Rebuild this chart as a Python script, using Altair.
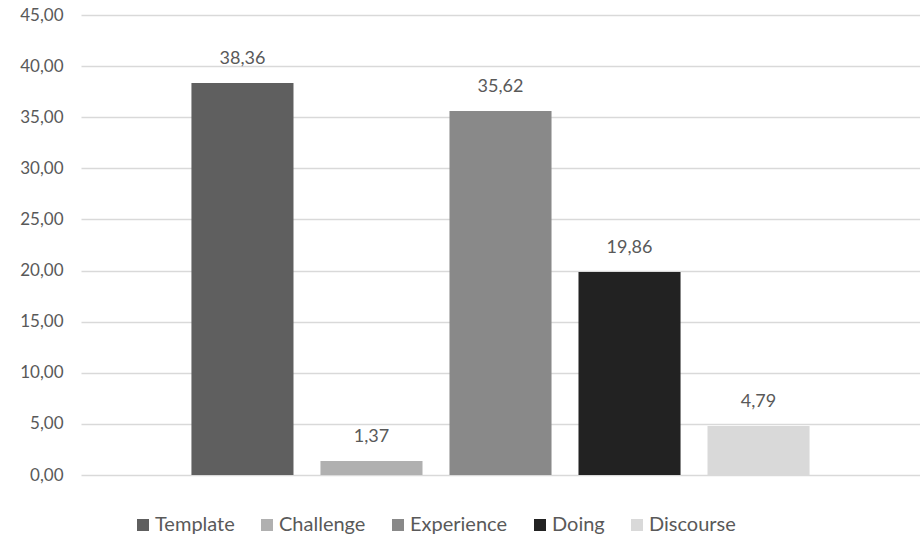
import altair as alt
import pandas as pd

# Share of each category (%)
categories = ["Template", "Challenge", "Experience", "Doing", "Discourse"]
values = [38.36, 1.37, 35.62, 19.86, 4.79]
bar_colors = ["#5f5f5f", "#b0b0b0", "#898989", "#222222", "#d9d9d9"]

y_ticks = [0, 5, 10, 15, 20, 25, 30, 35, 40, 45]

df = pd.DataFrame({"category": categories, "value": values})

FONT = "Lato"
TEXT_COLOR = "#595959"

x_enc = alt.X(
    "category:N",
    sort=categories,
    axis=None,
    scale=alt.Scale(paddingInner=0.209, paddingOuter=0.856, align=0.5),
)

bars = alt.Chart(df).mark_bar().encode(
    x=x_enc,
    y=alt.Y(
        "value:Q",
        scale=alt.Scale(domain=[0, 45], nice=False, zero=True),
        axis=alt.Axis(
            values=y_ticks,
            title=None,
            domain=False,
            ticks=False,
            grid=True,
            gridColor="#d9d9d9",
            gridWidth=1.5,
            labelFont=FONT,
            labelFontSize=17,
            labelColor=TEXT_COLOR,
            labelPadding=18,
            labelExpr="replace(format(datum.value, '.2f'), '.', ',')",
        ),
    ),
    color=alt.Color(
        "category:N",
        sort=categories,
        scale=alt.Scale(domain=categories, range=bar_colors),
        legend=alt.Legend(
            title=None,
            orient="none",
            direction="horizontal",
            columns=5,
            legendX=52,
            legendY=500,
            symbolType="square",
            symbolSize=144,
            symbolStrokeWidth=0,
            symbolOpacity=1,
            labelFont=FONT,
            labelFontSize=20,
            labelColor=TEXT_COLOR,
            labelOffset=2,
            columnPadding=22,
        ),
    ),
)

labels = alt.Chart(df).transform_calculate(
    label="replace(format(datum.value, '.2f'), '.', ',')"
).mark_text(
    baseline="bottom",
    dy=-15,
    font=FONT,
    fontSize=18,
    color=TEXT_COLOR,
).encode(
    x=x_enc,
    y=alt.Y("value:Q", scale=alt.Scale(domain=[0, 45], nice=False)),
    text="label:N",
)

chart = (
    alt.layer(bars, labels)
    .properties(
        width=839,
        height=460,
        autosize=alt.AutoSizeParams(type="none"),
        padding={"left": 81, "top": 15, "right": 0, "bottom": 65},
        background="white",
    )
    .configure_view(stroke=None)
)

chart.save("out.html", embed_options={"renderer": "svg", "actions": False})
